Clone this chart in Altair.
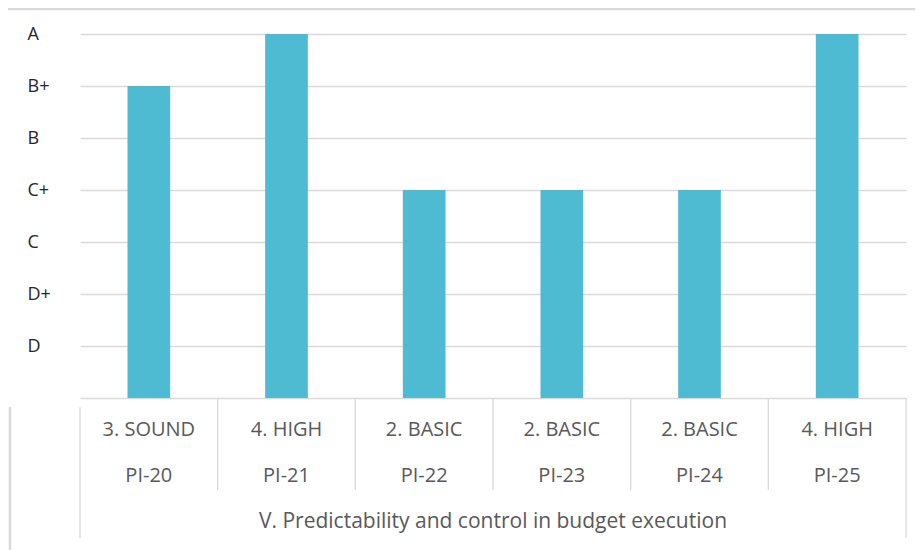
import altair as alt
import pandas as pd

# --- data ---
pis = ["PI-20", "PI-21", "PI-22", "PI-23", "PI-24", "PI-25"]
levels = ["3. SOUND", "4. HIGH", "2. BASIC", "2. BASIC", "2. BASIC", "4. HIGH"]
scores = ["B+", "A", "C+", "C+", "C+", "A"]
grade_scale = ["D", "D+", "C", "C+", "B", "B+", "A"]
group_title = "V. Predictability and control in budget execution"

df = pd.DataFrame({
    "pi": pis,
    "level": levels,
    "score": scores,
    "value": [grade_scale.index(s) + 1 for s in scores],
})

BAR = "#4FBBD3"
GRID = "#D9D9D9"
TXT = "#595959"
FONT = "Open Sans"

W, H = 826, 364

xscale = alt.Scale(domain=pis, paddingInner=0, paddingOuter=0)
label_expr = "[''," + ",".join(f"'{g}'" for g in grade_scale) + "][datum.value]"

base = alt.Chart(df)

bars = base.mark_bar(width=alt.RelativeBandSize(0.31), color=BAR).encode(
    x=alt.X("pi:N", scale=xscale, axis=None, sort=pis),
    y=alt.Y(
        "value:Q",
        scale=alt.Scale(domain=[0, 7], nice=False, zero=True),
        axis=alt.Axis(
            values=list(range(0, 8)),
            labelExpr=label_expr,
            title=None,
            domain=False,
            ticks=False,
            tickSize=0,
            labelAlign="left",
            labelBaseline="middle",
            labelPadding=53,
            labelFont=FONT,
            labelFontSize=18,
            labelColor="#262626",
            grid=True,
            gridColor=GRID,
            gridWidth=1.3,
        ),
    ),
)

# inner category separators (below the baseline)
inner = alt.Chart(df[df["pi"] != pis[0]]).mark_rule(color=GRID, strokeWidth=1.3).encode(
    x=alt.X("pi:N", scale=xscale, bandPosition=0, axis=None, sort=pis),
    y=alt.value(H),
    y2=alt.value(H + 92),
)
left_edge = alt.Chart(df[df["pi"] == pis[0]]).mark_rule(color=GRID, strokeWidth=1.3).encode(
    x=alt.X("pi:N", scale=xscale, bandPosition=0, axis=None, sort=pis),
    y=alt.value(H + 9),
    y2=alt.value(H + 140),
)
right_edge = alt.Chart(df[df["pi"] == pis[-1]]).mark_rule(color=GRID, strokeWidth=1.3).encode(
    x=alt.X("pi:N", scale=xscale, bandPosition=1, axis=None, sort=pis),
    y=alt.value(H),
    y2=alt.value(H + 140),
)

row1 = base.mark_text(font=FONT, fontSize=20, color=TXT, baseline="middle").encode(
    x=alt.X("pi:N", scale=xscale, axis=None, sort=pis),
    y=alt.value(396),
    text="level:N",
)
row2 = base.mark_text(font=FONT, fontSize=20, color=TXT, baseline="middle").encode(
    x=alt.X("pi:N", scale=xscale, axis=None, sort=pis),
    y=alt.value(442),
    text="pi:N",
)
title_df = pd.DataFrame({"t": [group_title]})
row3 = alt.Chart(title_df).mark_text(font=FONT, fontSize=21, color=TXT, baseline="middle").encode(
    x=alt.value(W / 2),
    y=alt.value(488),
    text="t:N",
)

# outer frame pieces (chart border)
frame_left = alt.Chart(title_df).mark_rule(color=GRID, strokeWidth=2.5).encode(
    x=alt.value(-70), y=alt.value(H + 9), y2=alt.value(H + 160)
)
frame_top = alt.Chart(title_df).mark_rule(color=GRID, strokeWidth=2.5).encode(
    x=alt.value(-72), x2=alt.value(W + 20), y=alt.value(-25)
)

chart = alt.layer(
    frame_top, frame_left, inner, left_edge, right_edge, bars, row1, row2, row3
).properties(
    width=W,
    height=H,
    padding={"left": 72, "top": 26, "right": 9, "bottom": 152},
    autosize=alt.AutoSizeParams(type="none"),
    background="white",
).configure_view(stroke=None)

chart.save("out.html", embed_options={"renderer": "svg", "actions": False})
